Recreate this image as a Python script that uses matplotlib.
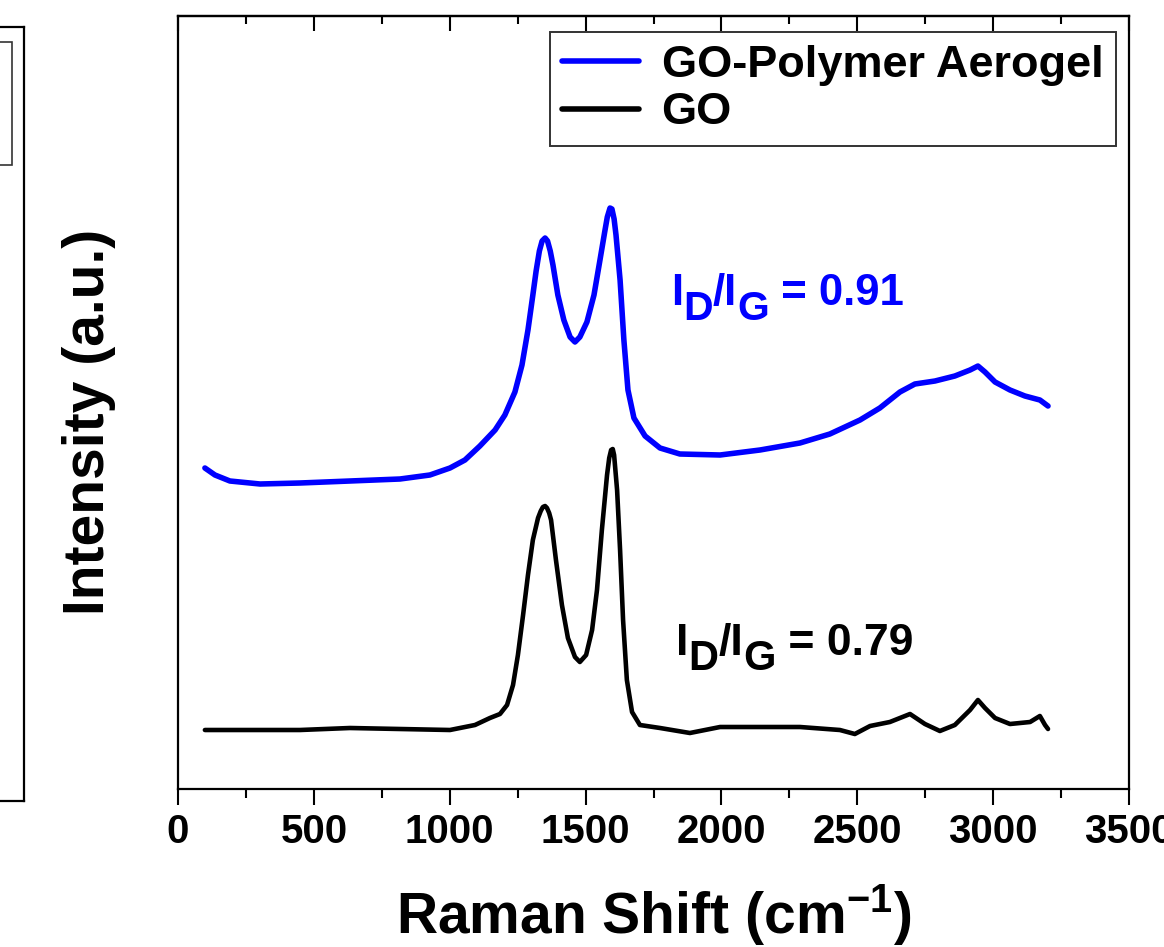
import matplotlib
matplotlib.use("Agg")
import matplotlib.pyplot as plt
from matplotlib.patches import Rectangle

plt.rcParams['font.family'] = ['Liberation Sans', 'DejaVu Sans']
plt.rcParams['font.weight'] = 'bold'
plt.rcParams['mathtext.fontset'] = 'custom'
plt.rcParams['mathtext.rm'] = 'Liberation Sans:bold'
plt.rcParams['mathtext.bf'] = 'Liberation Sans:bold'
plt.rcParams['mathtext.it'] = 'Liberation Sans:bold'

# ---- data ----
aerogel_x = [99, 136, 191, 302, 449, 633, 817, 927, 1001, 1056, 1111, 1167, 1203, 1240,
             1266, 1288, 1306, 1318, 1330, 1340, 1351, 1360, 1370, 1380, 1398, 1420, 1443,
             1461, 1479, 1505, 1531, 1553, 1571, 1580, 1590, 1597, 1605, 1612, 1620, 1627,
             1641, 1656, 1678, 1719, 1774, 1847, 1995, 2142, 2289, 2399, 2510, 2583, 2657,
             2712, 2786, 2859, 2915, 2944, 2970, 3007, 3062, 3117, 3172, 3202]
aerogel_y = [321, 314, 308, 305, 306, 308, 310, 314, 321, 329, 343, 359, 374, 397,
             424, 459, 494, 518, 538, 548, 551, 548, 538, 524, 494, 469, 452,
             447, 452, 467, 494, 529, 558, 572, 581, 580, 570, 554, 530, 509,
             449, 399, 371, 353, 341, 335, 334, 339, 346, 355, 369, 381, 397,
             405, 408, 413, 419, 423, 417, 407, 399, 393, 389, 383]

go_x = [99, 449, 633, 1001, 1093, 1148, 1185, 1211, 1233, 1251, 1270, 1288, 1306, 1325,
        1335, 1343, 1351, 1358, 1366, 1373, 1391, 1413, 1435, 1461, 1479, 1502, 1524,
        1542, 1560, 1579, 1587, 1594, 1600, 1605, 1616, 1627, 1638, 1652, 1671, 1700,
        1774, 1884, 1995, 2289, 2436, 2491, 2547, 2620, 2694, 2749, 2804, 2859, 2915,
        2944, 2970, 3007, 3062, 3136, 3172, 3191, 3202]
go_y = [59, 59, 61, 59, 64, 71, 75, 84, 104, 134, 174, 214, 249, 271,
        278, 282, 283, 281, 276, 269, 229, 184, 151, 132, 127, 134, 159,
        199, 259, 314, 331, 339, 340, 334, 299, 239, 169, 109, 77, 64,
        61, 56, 62, 62, 59, 55, 63, 67, 75, 65, 58, 64, 79,
        89, 81, 71, 65, 67, 73, 64, 60]

series_labels = ["GO-Polymer Aerogel", "GO"]
ratio_values = ["0.91", "0.79"]
xticks = [0, 500, 1000, 1500, 2000, 2500, 3000, 3500]
xminor = [250, 750, 1250, 1750, 2250, 2750, 3250]

W, H = 1164, 947
fig = plt.figure(figsize=(W / 100, H / 100), dpi=100)

# remnant of neighbouring panel on the left
axl = fig.add_axes([-0.5, 1 - 801 / H, 0.5 + 24 / W, (801 - 27) / H])
axl.set_xticks([]); axl.set_yticks([])
for s in axl.spines.values():
    s.set_linewidth(1.6)
fig.add_artist(Rectangle((-0.1, 1 - 165 / H), 0.1 + 12 / W, (165 - 42) / H,
                         transform=fig.transFigure, fill=False, lw=1.2, ec='#333333'))

ax = fig.add_axes([178 / W, 1 - 789 / H, (1129 - 178) / W, (789 - 16) / H])
l1, = ax.plot(aerogel_x, aerogel_y, color='#0000ff', lw=4.0, solid_capstyle='round',
              solid_joinstyle='round', label=series_labels[0])
l2, = ax.plot(go_x, go_y, color='black', lw=3.3, solid_capstyle='round',
              solid_joinstyle='round', label=series_labels[1])

ax.set_xlim(0, 3500)
ax.set_ylim(0, 773)
ax.set_xticks(xticks)
ax.set_xticks(xminor, minor=True)
ax.set_yticks([])
ax.tick_params(axis='x', which='major', direction='out', length=11.5, width=1.5,
               labelsize=29, pad=6, top=False)
ax.tick_params(axis='x', which='minor', direction='out', length=6.5, width=1.5, top=False)
for lab in ax.get_xticklabels():
    lab.set_fontweight('bold')
for s in ax.spines.values():
    s.set_linewidth(1.6)

# top ticks point inward
sec = ax.secondary_xaxis('top')
sec.set_xticks(xticks)
sec.set_xticks(xminor, minor=True)
sec.tick_params(which='major', direction='in', length=11, width=1.5, labeltop=False)
sec.tick_params(which='minor', direction='in', length=6, width=1.5)
sec.spines['top'].set_linewidth(1.6)

ax.set_xlabel(r"Raman Shift (cm$^{\mathregular{-1}}$)", fontsize=41, fontweight='bold', labelpad=22)
ax.set_ylabel("Intensity (a.u.)", fontsize=41, fontweight='bold')
ax.yaxis.set_label_coords((116 - 178) / 951, (789 - 422) / 773)

leg = ax.legend(handles=[l1, l2], loc='upper right',
                bbox_to_anchor=(1116 / W, 1 - 32 / H), bbox_transform=fig.transFigure,
                fontsize=32.5, frameon=True, fancybox=False, handlelength=1.7,
                handletextpad=0.5, borderpad=0.28, labelspacing=0.15, borderaxespad=0)
leg.get_frame().set_edgecolor('black')
leg.get_frame().set_linewidth(1.4)
for t in leg.get_texts():
    t.set_fontweight('bold')
for h in leg.get_lines():
    h.set_linewidth(4)

# I_D/I_G annotations with large subscripts, built piece by piece
renderer = fig.canvas.get_renderer()


def ratio_text(x_px, base_px, value, color, size):
    pieces = [("I", size, 0), ("D", size - 2, 15), ("/I", size, 0), ("G", size - 2, 15),
              (" = " + value, size, 0)]
    x = x_px
    for s, sz, dy in pieces:
        t = fig.text(x / W, 1 - (base_px + dy) / H, s, fontsize=sz, color=color,
                     fontweight='bold', ha='left', va='baseline')
        x += t.get_window_extent(renderer).width


ratio_text(671, 305, ratio_values[0], '#0000ff', 31.5)
ratio_text(676, 655, ratio_values[1], 'black', 32)

fig.savefig("out.png", dpi=100)
